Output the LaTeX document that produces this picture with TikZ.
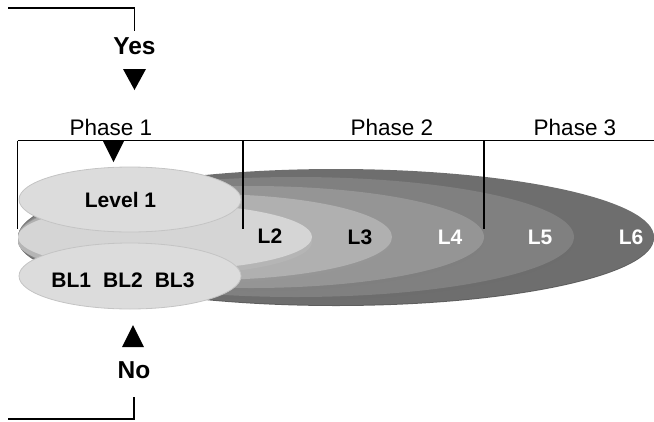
\documentclass[tikz,border=0pt]{standalone}
\usepackage{fontspec}
\setmainfont{Liberation Sans}
\usetikzlibrary{calc}
\definecolor{lsix}{HTML}{6E6E6E}
\definecolor{lfive}{HTML}{808080}
\definecolor{lfour}{HTML}{959595}
\definecolor{lthree}{HTML}{B0B0B0}
\definecolor{ltwo}{HTML}{D5D5D5}
\definecolor{lone}{HTML}{DCDCDC}
\definecolor{lrim}{HTML}{C4C4C4}

\begin{document}
\begin{tikzpicture}[x=1pt,y=-1pt,line width=1.4pt,
  lab/.style={font=\fontsize{21}{21}\selectfont\bfseries,inner sep=0pt},
  answer/.style={font=\fontsize{24.5}{24.5}\selectfont\bfseries,inner sep=0pt},
  phase/.style={font=\fontsize{22.5}{22.5}\selectfont,inner sep=0pt},
  tri/.style={fill=black,draw=none}]
\useasboundingbox (0,0) rectangle (654,421);
% ---------- nested levels, outer first, each with a darker rim below ----------
\foreach \cx/\rx/\ry/\col/\dp in {336/318/68/lsix/1,296/278/60/lfive/3,251/233/51/lfour/3,205/187/43/lthree/3,165/147/33/ltwo/5}{
  \fill[\col!85!black] (\cx,237+\dp) ellipse [x radius=\rx, y radius=\ry];
  \fill[\col] (\cx,237) ellipse [x radius=\rx, y radius=\ry];}
% ---------- level 1 and base levels ----------
\filldraw[fill=lone,draw=lrim,line width=0.8pt] (130,199.5) ellipse [x radius=111, y radius=32.5];
\filldraw[fill=lone,draw=lrim,line width=0.8pt] (130,276) ellipse [x radius=111, y radius=33];
\node[lab] (lvone) at (120.5,200) {Level 1};
\node[lab] (bl) at (123,280) {BL1\hspace{12pt}BL2\hspace{12pt}BL3};
\node[lab] (ltwo) at (270,236) {L2};
\node[lab] (lthree) at (360,237) {L3};
\node[lab,white] (lfour) at (450,237) {L4};
\node[lab,white] (lfive) at (540,237) {L5};
\node[lab,white] (lsix) at (631,237) {L6};
% ---------- phase bar ----------
\node[phase] (phone) at (111,127) {Phase 1};
\node[phase] (phtwo) at (392,127) {Phase 2};
\node[phase] (phthree) at (575,127) {Phase 3};
\coordinate (barl) at (17.5,140.5);
\coordinate (barr) at (654,140.5);
\draw (barl) -- (barr);
\draw (barl) -- (17.5,229);
\draw (243,140.5) -- (243,229);
\draw (484,140.5) -- (484,229);
\fill[tri] (103,141) -- (124,141) -- (113.5,162) -- cycle;
% ---------- yes / no ----------
\node[answer] (yes) at (134.5,46) {Yes};
\node[answer] (no) at (134,370) {No};
\coordinate (yesin) at (8,8);
\coordinate (noin) at (8,419);
\draw (yesin) -| ($(yes.north)+(0,-6)$);
\draw (noin) -| ($(no.south)+(0,18)$);
\fill[tri] (123,69) -- (146,69) -- (134.5,90) -- cycle;
\fill[tri] (122,347) -- (144,347) -- (133,325) -- cycle;
\end{tikzpicture}
\end{document}
